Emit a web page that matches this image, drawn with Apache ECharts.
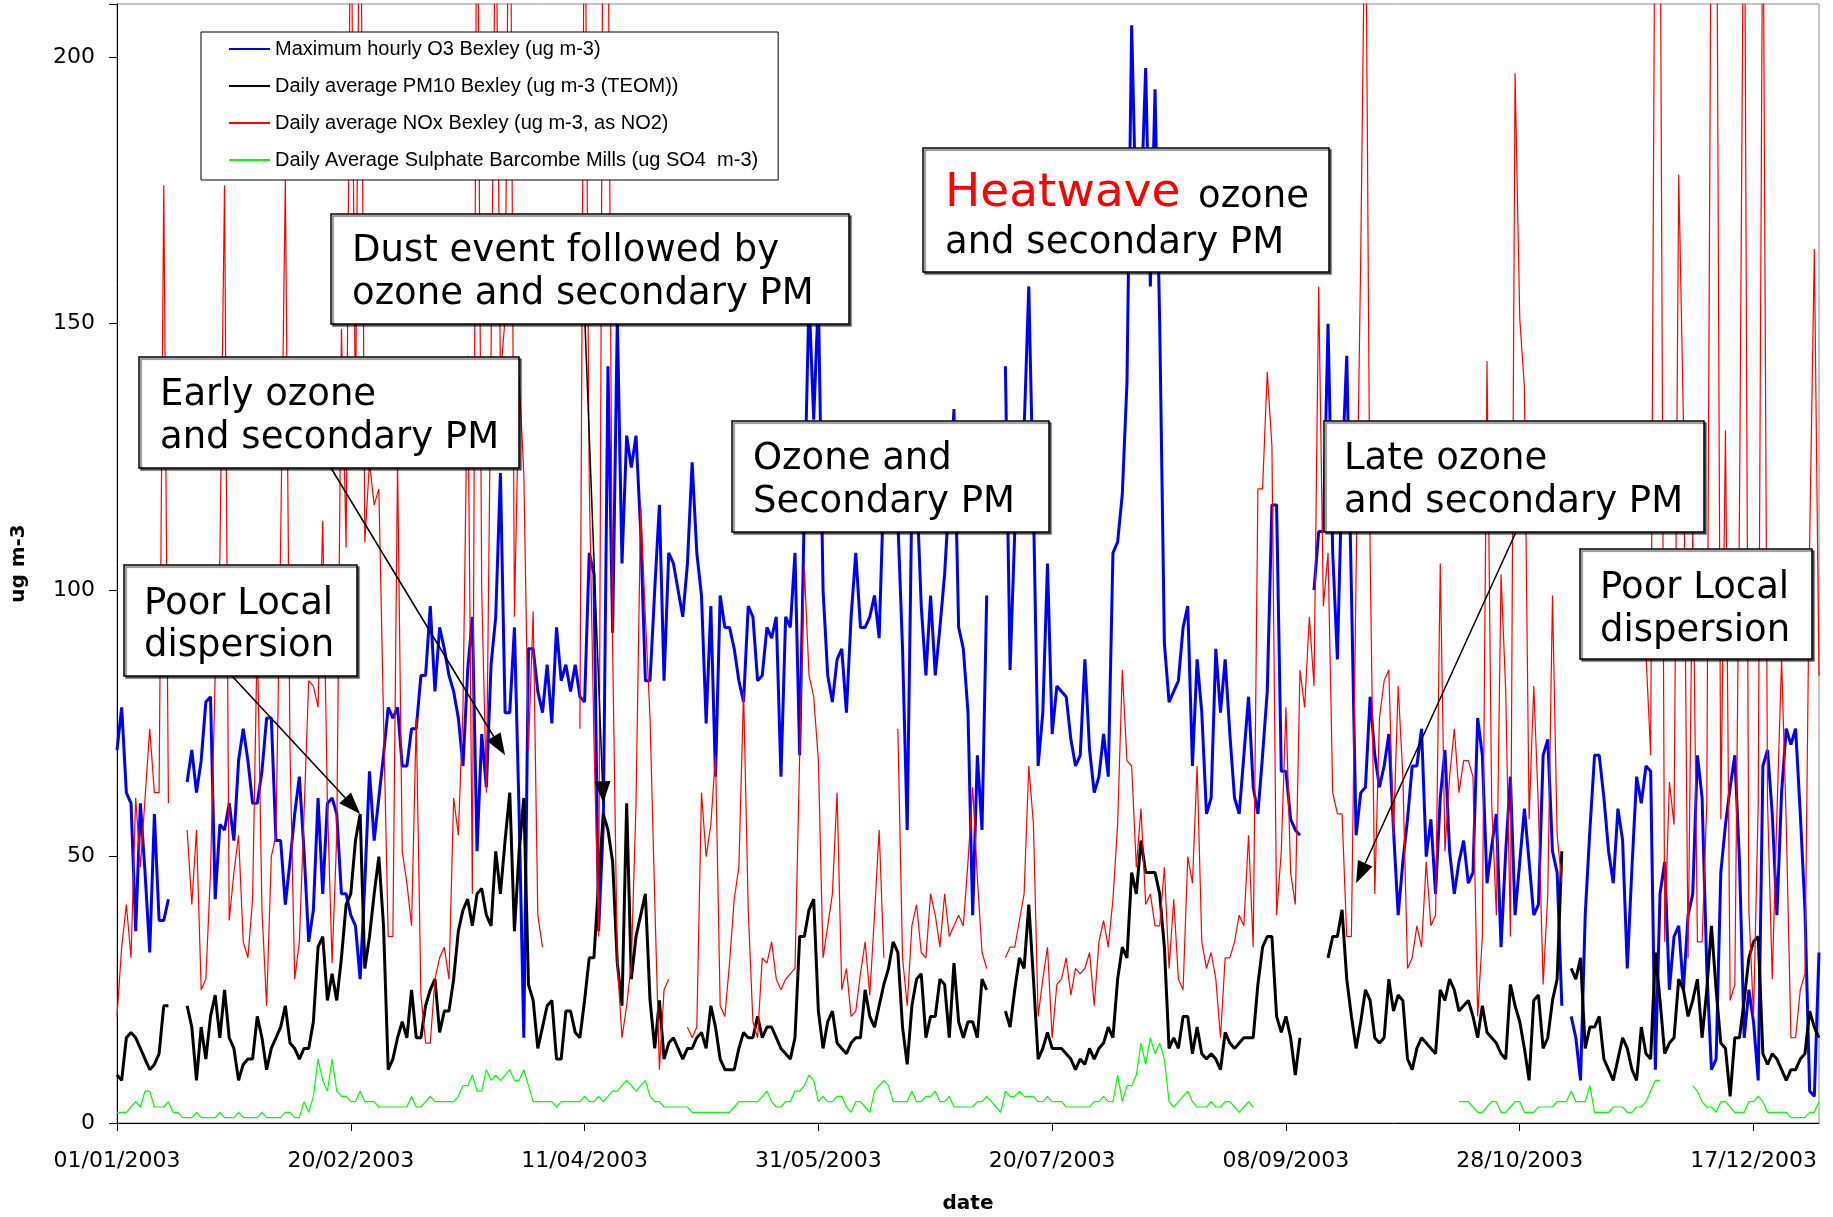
<!DOCTYPE html>
<html>
<head>
<meta charset="utf-8">
<title>Bexley 2003</title>
<script src="https://cdn.jsdelivr.net/npm/echarts@6/dist/echarts.min.js"></script>
<style>
  html, body { margin: 0; padding: 0; background: #fff; }
  #chart { width: 1833px; height: 1217px; }
</style>
</head>
<body>
<div id="chart"></div>
<script>
// one value per day of 2003, index 0 = 01/01/2003, null = no data
var o3Max = [
  70,78,62,60,36,60,47,32,58,38,
  38,42,null,null,null,64,70,62,68,79,
  80,42,56,55,60,53,68,74,68,60,
  60,66,76,76,53,53,41,49,58,65,
  51,34,40,61,43,60,61,58,43,43,
  39,37,27,45,66,53,61,69,78,76,
  78,67,67,74,74,84,84,97,81,93,
  89,84,81,76,67,85,95,51,73,63,
  86,95,122,77,77,93,58,16,89,89,
  81,77,86,75,93,83,86,81,86,80,
  79,107,103,36,56,142,92,151,105,129,
  123,129,111,83,83,100,116,83,107,105,
  100,95,105,124,107,99,75,97,65,99,
  93,93,89,83,79,97,95,83,84,93,
  91,95,65,95,93,107,69,116,155,132,
  155,100,84,79,87,89,77,95,107,93,
  93,95,99,91,120,125,122,113,89,55,
  118,120,97,84,99,84,93,103,118,134,
  93,89,77,39,69,55,99,null,null,null,
  142,85,111,127,130,157,116,67,77,105,
  73,82,81,80,72,67,69,87,70,62,
  65,73,65,107,109,118,139,206,168,172,
  198,157,194,150,90,79,81,83,93,97,
  67,87,77,58,61,89,77,87,73,61,
  58,69,80,63,58,69,81,116,116,66,
  66,57,55,54,null,null,100,111,111,150,
  107,87,122,144,100,54,62,63,80,69,
  63,67,73,55,39,49,57,67,67,74,
  50,57,43,61,70,51,43,49,53,45,
  47,76,69,45,52,58,33,51,65,39,
  49,59,49,39,41,69,72,51,47,22,
  null,20,16,8,39,55,69,69,61,51,
  45,59,53,29,48,65,60,67,66,10,
  43,49,25,35,37,25,39,43,69,61,
  29,10,12,47,56,63,69,49,16,25,
  19,8,67,70,58,39,62,74,71,74,
  58,40,6,5,32
];

var pm10 = [
  9,8,16,17,16,14,12,10,11,13,
  22,22,null,null,null,22,18,8,18,12,
  20,24,16,25,16,14,8,11,12,12,
  20,16,10,14,16,18,22,15,14,12,
  14,14,19,33,35,23,28,23,31,41,
  43,53,58,29,35,43,50,37,10,12,
  16,19,16,25,16,16,22,25,27,17,
  21,21,27,36,40,42,37,43,44,39,
  37,51,43,53,62,36,51,61,26,23,
  14,18,22,23,12,12,21,21,17,16,
  23,31,31,45,58,55,49,30,22,60,
  27,35,39,43,23,14,23,12,15,16,
  14,12,14,14,16,17,14,22,18,12,
  10,10,10,14,17,16,16,20,16,18,
  18,16,14,13,12,16,35,35,40,42,
  21,14,19,21,15,14,13,15,16,16,
  25,20,18,22,26,29,34,32,18,11,
  22,27,28,16,20,20,27,26,16,30,
  19,16,19,19,16,27,25,null,null,null,
  21,18,25,31,29,41,27,12,14,17,
  14,14,14,13,12,10,12,11,14,12,
  14,15,18,16,27,33,31,47,43,53,
  47,47,47,43,33,14,16,14,20,20,
  13,18,13,12,13,12,10,17,15,14,
  15,16,16,16,26,33,35,35,20,17,
  20,16,9,16,null,null,null,null,null,31,
  35,35,40,27,20,14,19,25,23,16,
  15,16,27,21,24,23,12,10,14,16,
  15,14,13,25,23,27,25,21,22,23,
  20,16,22,17,16,15,13,12,26,22,
  19,14,8,23,24,14,16,23,27,51,
  null,29,27,31,14,18,18,20,12,10,
  8,12,16,14,10,8,18,13,12,32,
  23,13,15,16,27,25,20,23,27,16,
  25,37,25,15,14,5,16,16,23,31,
  34,35,13,11,13,12,10,8,10,10,
  12,13,21,18,16
];

var nox = [
  20,33,41,31,61,48,61,74,62,62,
  176,60,null,null,null,55,41,55,25,27,
  47,84,106,176,38,47,54,34,31,42,
  92,40,22,50,54,109,177,70,27,34,
  58,83,82,78,113,60,30,54,149,108,
  240,130,255,109,124,116,119,76,35,35,
  124,51,45,37,76,24,15,15,27,31,
  33,27,61,54,78,144,43,250,100,62,
  145,235,140,151,260,95,140,122,70,96,
  39,33,null,null,null,null,null,null,null,74,
  245,120,72,35,250,232,89,30,16,22,
  30,60,116,95,76,42,10,25,27,null,
  null,null,18,16,18,62,50,56,69,22,
  20,30,42,48,81,40,19,16,31,30,
  34,27,25,27,28,29,69,104,84,80,
  68,31,37,43,62,25,29,20,21,28,
  34,24,39,55,31,null,null,74,31,22,
  37,41,32,31,43,39,33,43,35,37,
  39,37,49,63,46,32,29,null,null,null,
  31,33,33,38,43,67,56,20,27,33,
  16,26,27,31,24,29,28,29,32,22,
  34,38,33,42,56,85,68,67,48,59,
  41,43,37,37,48,29,42,27,25,50,
  45,67,34,29,32,27,16,31,31,34,
  39,37,54,33,119,119,141,127,39,51,
  78,47,41,85,78,95,82,157,97,107,
  62,58,58,35,35,103,163,240,107,43,
  76,83,85,54,82,65,29,31,37,33,
  49,37,39,105,51,65,74,62,68,68,
  65,20,35,143,60,39,103,81,35,197,
  151,138,57,82,59,26,43,99,54,45,
  null,null,null,null,null,null,null,null,null,null,
  null,null,null,null,null,null,null,88,69,250,
  240,34,64,56,178,132,31,111,34,34,
  60,245,260,57,130,23,26,116,250,40,
  20,60,240,60,27,58,87,56,16,16,
  25,28,109,164,84
];

var sulphate = [
  2,2,2,3,4,3,6,6,3,3,
  3,4,2,2,1,1,1,2,1,1,
  1,1,2,1,1,1,2,1,1,1,
  1,2,1,1,1,1,2,2,1,1,
  4,2,5,12,8,6,12,6,5,5,
  4,4,6,4,4,4,3,3,3,3,
  3,3,3,5,3,3,4,5,4,4,
  4,4,4,5,7,7,9,6,6,10,
  8,9,8,9,10,8,8,10,7,4,
  4,4,4,4,3,4,4,4,4,4,
  5,4,4,5,4,5,6,6,7,8,
  7,6,7,8,5,4,4,3,3,3,
  3,3,3,2,2,2,2,2,2,2,
  2,2,3,4,4,4,4,4,5,6,
  4,3,3,4,4,6,6,7,9,8,
  4,5,4,4,5,5,3,2,4,4,
  3,2,6,7,8,7,4,4,4,4,
  6,4,4,5,5,6,4,4,5,3,
  3,3,3,3,4,4,5,4,3,2,
  6,5,5,6,5,5,5,4,4,5,
  4,4,4,3,3,3,3,3,3,4,
  4,5,4,4,9,4,7,7,9,15,
  11,16,13,15,12,4,3,4,5,6,
  4,3,3,3,4,3,3,4,4,3,
  2,3,4,3,null,null,null,null,null,null,
  null,null,null,null,null,null,null,null,null,null,
  null,null,null,null,null,null,null,null,null,null,
  null,null,null,null,null,null,null,null,null,null,
  null,null,null,null,null,null,null,4,4,4,
  3,2,2,3,4,4,2,2,3,4,
  4,2,2,2,3,3,3,3,4,4,
  4,6,4,4,4,7,2,2,2,2,
  3,3,3,2,2,3,3,4,6,8,
  8,null,null,null,null,null,null,7,6,4,
  3,3,2,4,4,3,2,2,2,4,
  4,5,4,2,2,2,2,2,1,1,
  1,1,2,2,4
];

var seriesNames = [
  'Maximum hourly O3 Bexley (ug m-3)',
  'Daily average PM10 Bexley (ug m-3 (TEOM))',
  'Daily average NOx Bexley (ug m-3, as NO2)',
  'Daily Average Sulphate Barcombe Mills (ug SO4  m-3)'
];

// dd/mm/yyyy for every day of 2003
function pad(n) { return n < 10 ? '0' + n : '' + n; }
var days = [];
for (var i = 0; i < 365; i++) {
  var d = new Date(Date.UTC(2003, 0, 1 + i));
  days.push(pad(d.getUTCDate()) + '/' + pad(d.getUTCMonth() + 1) + '/' + d.getUTCFullYear());
}

var chart = echarts.init(document.getElementById('chart'));

var boxFont = '37px "DejaVu Sans"';

chart.setOption({
  animation: false,
  backgroundColor: '#fff',
  grid: {
    left: 117, right: 14, top: 4, bottom: 94,
    outerBoundsMode: 'none',
    show: true, borderColor: '#8a8a8a', borderWidth: 1
  },
  legend: {
    orient: 'vertical',
    left: 201, top: 32,
    padding: [6, 20, 9, 27],
    itemWidth: 41, itemHeight: 14, itemGap: 15,
    backgroundColor: '#fff',
    borderColor: '#000', borderWidth: 1,
    // hide the point marker, keep only the line sample
    itemStyle: { color: 'rgba(0,0,0,0)', borderColor: 'rgba(0,0,0,0)', borderWidth: 0, opacity: 0 },
    textStyle: { fontFamily: 'Liberation Sans', fontSize: 20, color: '#000', lineHeight: 22 },
    data: seriesNames
  },
  xAxis: {
    type: 'category',
    data: days,
    boundaryGap: false,
    name: 'date',
    nameLocation: 'middle',
    nameGap: 71,
    nameTextStyle: { fontFamily: 'DejaVu Sans', fontWeight: 'bold', fontSize: 20, color: '#000' },
    axisLine: { lineStyle: { color: '#000', width: 1 } },
    axisTick: { interval: 49, length: 8, lineStyle: { color: '#000' } },
    axisLabel: { interval: 49, margin: 27, fontFamily: 'DejaVu Sans', fontSize: 22, color: '#000' },
    splitLine: { show: false }
  },
  yAxis: {
    type: 'value',
    min: 0, max: 210, interval: 50,
    name: 'ug m-3',
    nameLocation: 'middle',
    nameGap: 88,
    nameRotate: 90,
    nameTextStyle: { fontFamily: 'DejaVu Sans', fontWeight: 'bold', fontSize: 20, color: '#000' },
    axisLine: { show: true, lineStyle: { color: '#000', width: 1 } },
    axisTick: { show: true, length: 8, lineStyle: { color: '#000' } },
    axisLabel: {
      margin: 22, fontFamily: 'DejaVu Sans', fontSize: 22, color: '#000',
      formatter: function (v) { return v % 50 === 0 ? v : ''; }
    },
    splitLine: { show: false }
  },
  series: [
    { name: seriesNames[0], type: 'line', data: o3Max, symbol: 'none',
      lineStyle: { color: '#0000ff', width: 3 }, itemStyle: { color: '#0000ff' } },
    { name: seriesNames[1], type: 'line', data: pm10, symbol: 'none',
      lineStyle: { color: '#000000', width: 3 }, itemStyle: { color: '#000000' } },
    { name: seriesNames[2], type: 'line', data: nox, symbol: 'none',
      lineStyle: { color: '#ff0000', width: 1.2 }, itemStyle: { color: '#ff0000' } },
    { name: seriesNames[3], type: 'line', data: sulphate, symbol: 'none',
      lineStyle: { color: '#00ff00', width: 1.2 }, itemStyle: { color: '#00ff00' } }
  ]
});

// annotation boxes: [left, top, width, height], text lines with their left x and centre y
var notes = [
  { box: [331, 214, 518, 110], x: 352, lines: [['Dust event followed by', 251], ['ozone and secondary PM', 294]] },
  { box: [139, 357, 380, 111], x: 160, lines: [['Early ozone', 395], ['and secondary PM', 438]] },
  { box: [732, 421, 317, 111], x: 753, lines: [['Ozone and', 459], ['Secondary PM', 502]] },
  { box: [1324, 421, 380, 111], x: 1344, lines: [['Late ozone', 459], ['and secondary PM', 502]] },
  { box: [124, 565, 233, 111], x: 144, lines: [['Poor Local', 604], ['dispersion', 646]] },
  { box: [1580, 549, 232, 110], x: 1600, lines: [['Poor Local', 588], ['dispersion', 631]] },
  { box: [923, 148, 406, 124], x: 945, lines: [['and secondary PM', 243]] }
];

// arrows: start on a box edge (px), tip at a [day index, value] point
var arrows = [
  { from: [232, 676], to: [52, 58] },
  { from: [331, 468], to: [83, 69] },
  { from: [585, 324], to: [104, 60] },
  { from: [1516, 532], to: [265, 45] }
];

var graphics = [];
notes.forEach(function (n) {
  graphics.push({
    type: 'rect', z: 50,
    shape: { x: n.box[0], y: n.box[1], width: n.box[2], height: n.box[3] },
    style: { fill: '#fff', stroke: '#000', lineWidth: 1.5,
             shadowColor: 'rgba(0,0,0,0.55)', shadowBlur: 1, shadowOffsetX: 2, shadowOffsetY: 2 }
  });
  n.lines.forEach(function (l) {
    graphics.push({
      type: 'text', z: 51,
      style: { text: l[0], x: n.x, y: l[1], font: boxFont, fill: '#000', verticalAlign: 'middle' }
    });
  });
});
graphics.push({
  type: 'text', z: 51,
  style: { text: 'Heatwave', x: 945, y: 194, font: '47px "DejaVu Sans"', fill: '#ff0000', verticalAlign: 'middle' }
});
graphics.push({
  type: 'text', z: 51,
  style: { text: 'ozone', x: 1198, y: 197, font: boxFont, fill: '#000', verticalAlign: 'middle' }
});

arrows.forEach(function (a) {
  var tip = chart.convertToPixel({ gridIndex: 0 }, a.to);
  var dx = tip[0] - a.from[0], dy = tip[1] - a.from[1];
  var len = Math.sqrt(dx * dx + dy * dy);
  var ux = dx / len, uy = dy / len;
  var L = 22, W = 8;
  var bx = tip[0] - ux * L, by = tip[1] - uy * L;
  graphics.push({
    type: 'line', z: 52,
    shape: { x1: a.from[0], y1: a.from[1], x2: bx, y2: by },
    style: { stroke: '#000', lineWidth: 1.5 }
  });
  graphics.push({
    type: 'polygon', z: 52,
    shape: { points: [tip, [bx - uy * W, by + ux * W], [bx + uy * W, by - ux * W]] },
    style: { fill: '#000' }
  });
});

chart.setOption({ graphic: graphics });
</script>
</body>
</html>
